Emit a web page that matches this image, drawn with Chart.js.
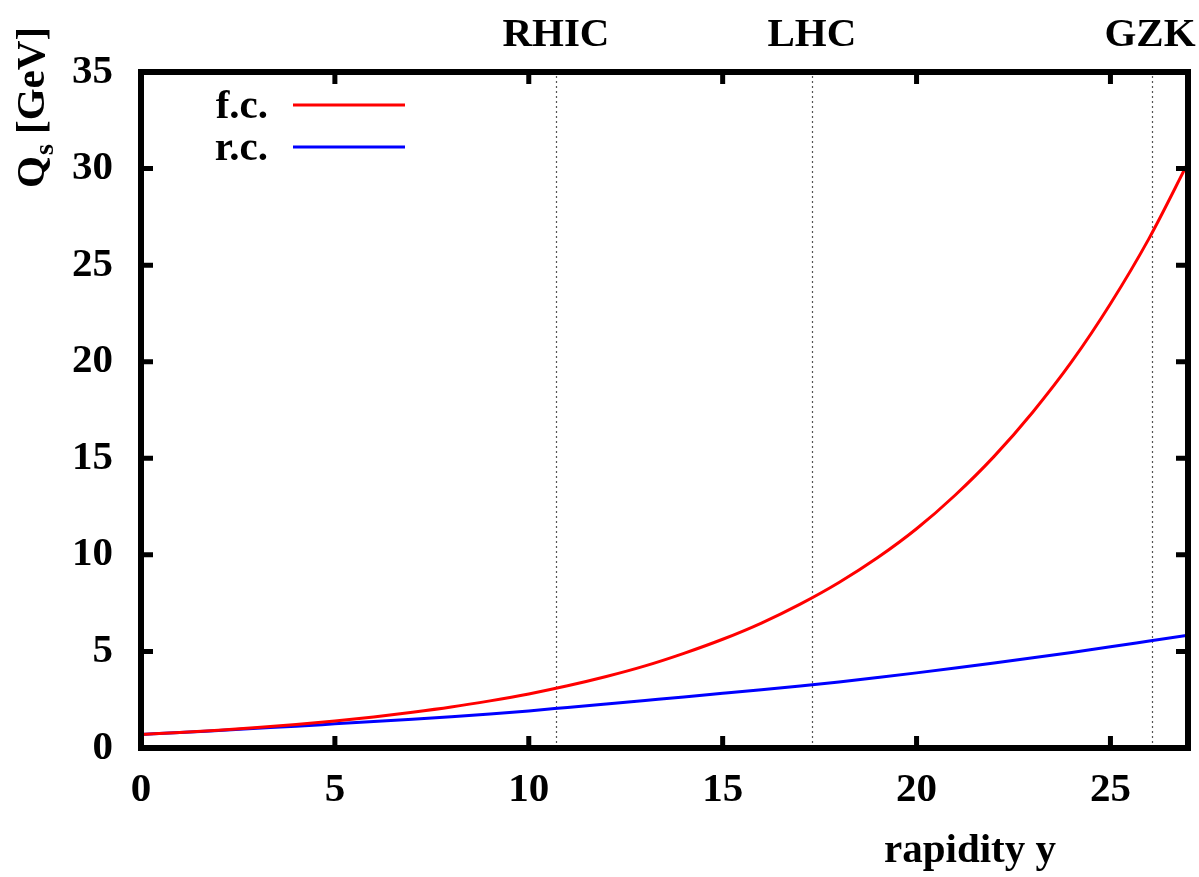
<!DOCTYPE html>
<html>
<head>
<meta charset="utf-8">
<script src="https://cdn.jsdelivr.net/npm/chart.js@4"></script>
<style>
html, body { margin: 0; padding: 0; background: #fff; }
</style>
</head>
<body>
<canvas id="grafico" width="1199" height="877"></canvas>
<script>
// rapidez y e escala de saturacao Qs (GeV)
const rapidez = [0, 1, 2, 3, 4, 5, 6, 7, 8, 9, 10, 11, 12, 13, 14, 15, 16, 17, 18, 19, 20, 21, 22, 23, 24, 25, 26, 27];
const qsFixo = [0.70, 0.80, 0.92, 1.06, 1.22, 1.40, 1.61, 1.85, 2.12, 2.44, 2.80, 3.22, 3.70, 4.25, 4.90, 5.63,
                6.47, 7.45, 8.57, 9.86, 11.35, 13.1, 15.1, 17.4, 20.0, 23.0, 26.4, 30.3];
const qsCorrido = [0.70, 0.80, 0.91, 1.02, 1.13, 1.25, 1.37, 1.49, 1.62, 1.76, 1.92, 2.10, 2.28, 2.46, 2.64, 2.83,
                   3.02, 3.21, 3.42, 3.65, 3.89, 4.14, 4.40, 4.67, 4.95, 5.24, 5.54, 5.84];
const nomesSeries = ["f.c.", "r.c."];
const coresSeries = ["#ff0000", "#0000ff"];
const marcadores = ["RHIC", "LHC", "GZK"];
const posMarcadores = [10.7, 17.3, 26.07];
const ticksX = [0, 5, 10, 15, 20, 25];
const ticksY = [0, 5, 10, 15, 20, 25, 30, 35];

const FAMILIA = "'Liberation Serif', 'Times New Roman', serif";
const FONTE = "bold 41px " + FAMILIA;

const extras = {
    id: 'extras',
    beforeDatasetsDraw(chart) {
        const { ctx, chartArea: a, scales: { x } } = chart;
        ctx.save();
        ctx.strokeStyle = "#555";
        ctx.lineWidth = 1.2;
        ctx.setLineDash([2, 3]);
        posMarcadores.forEach(v => {
            const px = Math.round(x.getPixelForValue(v)) + 0.5;
            ctx.beginPath();
            ctx.moveTo(px, a.bottom);
            ctx.lineTo(px, a.top);
            ctx.stroke();
        });
        ctx.restore();
    },
    afterDatasetsDraw(chart) {
        const { ctx, chartArea: a, scales: { x, y } } = chart;
        ctx.save();
        ctx.strokeStyle = "#000";
        ctx.lineWidth = 5;
        ticksX.forEach(v => {
            const px = x.getPixelForValue(v);
            ctx.beginPath();
            ctx.moveTo(px, a.bottom); ctx.lineTo(px, a.bottom - 12);
            ctx.moveTo(px, a.top); ctx.lineTo(px, a.top + 12);
            ctx.stroke();
        });
        ticksY.forEach(v => {
            const py = y.getPixelForValue(v);
            ctx.beginPath();
            ctx.moveTo(a.left, py); ctx.lineTo(a.left + 12, py);
            ctx.moveTo(a.right, py); ctx.lineTo(a.right - 12, py);
            ctx.stroke();
        });
        // moldura
        ctx.lineWidth = 6;
        ctx.strokeRect(a.left, a.top, a.right - a.left, a.bottom - a.top);

        // legenda
        ctx.font = FONTE;
        ctx.fillStyle = "#000";
        ctx.textAlign = "right";
        ctx.textBaseline = "alphabetic";
        nomesSeries.forEach((nome, i) => {
            const base = 118 + i * 42;
            ctx.fillText(nome, 268, base);
            ctx.strokeStyle = coresSeries[i];
            ctx.lineWidth = 3;
            ctx.beginPath();
            ctx.moveTo(293, base - 13);
            ctx.lineTo(405, base - 13);
            ctx.stroke();
        });
        ctx.restore();
    },
    afterDraw(chart) {
        const { ctx, scales: { x } } = chart;
        ctx.save();
        ctx.font = FONTE;
        ctx.fillStyle = "#000";
        ctx.textBaseline = "alphabetic";
        ctx.textAlign = "center";
        marcadores.forEach((m, i) => {
            const px = x.getPixelForValue(posMarcadores[i]);
            ctx.fillText(m, Math.min(px, 1150), 46);
        });
        ctx.fillText("rapidity y", 970, 862);

        // titulo do eixo y: Q_s [GeV]
        ctx.translate(44, 188);
        ctx.rotate(-Math.PI / 2);
        ctx.textAlign = "left";
        ctx.fillText("Q", 0, 0);
        let w = ctx.measureText("Q").width;
        ctx.font = "bold 28px " + FAMILIA;
        ctx.fillText("s", w + 1, 9);
        w += ctx.measureText("s").width + 1;
        ctx.font = FONTE;
        ctx.fillText(" [GeV]", w, 0);
        ctx.restore();
    }
};

new Chart(document.getElementById("grafico"), {
    type: 'line',
    data: {
        datasets: [
            {
                label: nomesSeries[0],
                data: rapidez.map((r, i) => ({ x: r, y: qsFixo[i] })),
                borderColor: coresSeries[0],
                borderWidth: 3,
                pointRadius: 0,
                cubicInterpolationMode: 'monotone',
                fill: false
            },
            {
                label: nomesSeries[1],
                data: rapidez.map((r, i) => ({ x: r, y: qsCorrido[i] })),
                borderColor: coresSeries[1],
                borderWidth: 3,
                pointRadius: 0,
                cubicInterpolationMode: 'monotone',
                fill: false
            }
        ]
    },
    options: {
        responsive: false,
        animation: false,
        layout: { padding: { top: 72, right: 11, left: 0, bottom: 0 } },
        plugins: { legend: { display: false }, tooltip: { enabled: false } },
        scales: {
            x: {
                type: 'linear', min: 0, max: 27,
                afterFit: s => { s.height = 129; },
                grid: { display: false, drawTicks: false },
                border: { display: false },
                ticks: {
                    stepSize: 5, includeBounds: false, padding: 18, color: "#000",
                    font: { family: FAMILIA, size: 41, weight: 'bold' }
                }
            },
            y: {
                type: 'linear', min: 0, max: 35,
                afterFit: s => { s.width = 141; },
                grid: { display: false, drawTicks: false },
                border: { display: false },
                ticks: {
                    stepSize: 5, padding: 28, color: "#000",
                    font: { family: FAMILIA, size: 41, weight: 'bold' }
                }
            }
        }
    },
    plugins: [extras]
});
</script>
</body>
</html>
